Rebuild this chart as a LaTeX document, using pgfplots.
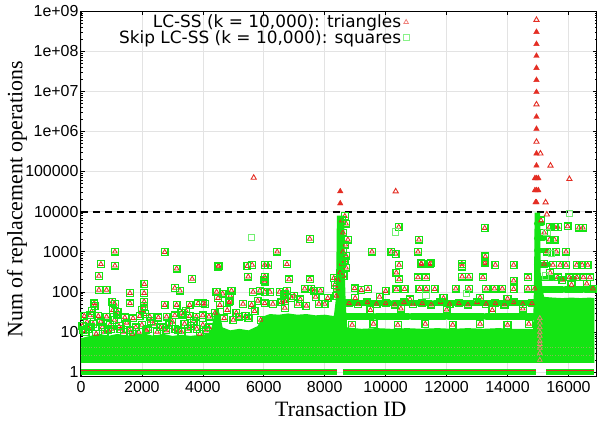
\documentclass[border=0pt]{standalone}
\usepackage{fontspec}
\setmainfont{Liberation Serif}
\setsansfont{Liberation Sans}
\newfontfamily\legfont{DejaVu Sans}
\usepackage{pgfplots}
\pgfplotsset{compat=1.18}
\usepackage{pgfplotstable}
\definecolor{lcgreen}{RGB}{20,228,20}
\definecolor{lcred}{RGB}{228,45,35}

% points where both variants report the same count (triangle inside square)
\pgfplotstableread{
x y
1115 1000
2750 980
655 490
1115 450
3140 380
590 250
3650 210
2080 155
590 112
840 112
3080 125
3250 107
1610 93
2075 93
440 52
1030 57
1115 50
1610 52
2075 57
2075 45
2750 47
3140 47
3570 47
3850 52
4010 52
110 25
300 26
570 25
840 24
1170 27
1440 23
1710 22
1930 25
2260 24
2540 23
2810 24
3080 26
3350 27
3570 25
3790 24
4000 26
4200 24
350 33
450 45
1050 35
1200 32
3300 30
3450 33
2000 35
2100 28
50 14
250 12
400 16
700 13
950 15
1300 12
1500 17
1800 13
2000 15
2200 12
2400 16
2600 13
2900 15
3100 12
3400 16
3600 14
3800 12
4000 15
4200 13
200 18
650 18
1100 20
2300 19
3000 18
3700 19
150 10
500 9
900 11
1400 10
1700 9
2500 10
2800 11
3300 10
3900 9
80 11
320 13
780 10
1000 12
1250 14
1600 11
1900 10
2150 11
2700 13
3200 11
3500 12
4100 11
4520 450
4500 430
5460 440
5620 470
6030 470
6140 470
6760 490
5490 240
6030 240
6000 200
6030 180
6830 205
7510 205
6440 1000
7510 2100
4450 100
4940 107
5650 100
5870 107
6030 100
6200 100
6520 100
6760 107
7660 107
7860 107
7340 120
7560 117
4070 50
4560 47
4860 55
5320 50
5600 47
6030 52
6300 50
6580 55
7120 50
7400 45
7810 50
8000 50
4900 60
5800 60
6700 58
6650 85
7000 80
4800 35
5100 30
5400 25
5700 33
4400 30
4700 22
5000 20
5200 24
5500 22
5900 20
4500 70
4650 90
6900 70
7200 65
7700 75
8100 70
8300 220
8330 150
4900 80
6690 40
6690 60
6690 90
8430 200
8500 300
8550 500
8600 1000
8660 7700
8760 2000
8700 400
8620 250
8650 600
8680 1500
8600 3000
8400 120
8380 80
8700 5000
8560 6000
8700 800
10430 4150
11090 2000
9550 1000
10190 1000
10330 890
11060 1000
10440 470
11170 490
11440 490
10350 300
10440 205
11060 230
11330 230
8980 123
9420 117
10620 117
10350 115
11110 117
11330 117
11610 117
13250 3900
13270 760
13270 560
12500 500
12500 430
13600 470
14200 470
13250 520
12510 240
12730 240
13190 230
14200 190
14670 230
12300 120
12730 120
13300 120
13570 120
13830 120
14200 117
14670 120
14890 120
11170 520
11480 520
9200 110
10000 105
8800 52
9100 50
9400 55
9700 50
10000 52
10300 48
10600 55
10900 50
11200 52
11500 48
11800 55
12100 50
12400 52
12700 48
13000 55
13300 50
13600 52
13900 48
14200 55
14500 50
14800 52
9000 70
9800 75
10800 65
11900 70
13100 72
14000 68
9500 35
10500 38
12000 36
13500 35
14500 38
8900 15
9600 16
10400 15
11300 16
12200 15
13100 16
14000 15
14700 16
15380 4150
15540 4150
15650 4150
16340 4000
16470 4000
15970 4300
15380 2000
15540 2000
15600 1000
15920 1000
15490 470
15730 470
15920 470
16270 470
16450 470
16630 470
15650 230
16030 230
16270 230
16490 230
16700 230
15300 1000
15200 500
15400 300
15800 200
16100 150
16600 160
16800 120
15100 6000
15200 3000
}\bothpts

\begin{document}
\begin{tikzpicture}
\begin{axis}[
  scale only axis, width=516bp, height=366bp,
  xmin=0, xmax=16920,
  ymode=log, ymin=0.77, ymax=1e9,
  scaled x ticks=false,
  xtick={0,2000,4000,6000,8000,10000,12000,14000,16000},
  xticklabels={0,2000,4000,6000,8000,10000,12000,14000,16000},
  ytick={1,10,100,1000,10000,100000,1000000,10000000,100000000,1000000000},
  yticklabels={1,10,100,1000,10000,100000,1e+06,1e+07,1e+08,1e+09},
  ticklabel style={font=\sffamily\fontsize{16}{16}\selectfont},
  xticklabel style={yshift=-1bp},
  yticklabel style={xshift=1bp},
  grid=major, grid style={gray!22, line width=0.6bp},
  tick align=inside, major tick length=4bp, minor tick length=2bp,
  tick style={black, line width=0.6bp},
  axis line style={black, line width=0.9bp},
  xlabel={Transaction ID},
  ylabel={Num of replacement operations},
  label style={font=\fontsize{22}{22}\selectfont},
  x label style={at={(axis description cs:0.504,-0.09)}, anchor=center},
  y label style={at={(axis description cs:-0.124,0.485)}, anchor=center},
  legend style={at={(axis description cs:0.637,0.995)}, anchor=north east,
    draw=none, fill=none, font=\legfont\fontsize{17}{15}\selectfont,
    row sep=-3bp, inner sep=0pt},
  legend cell align=right, legend plot pos=right,
]
\addlegendimage{only marks, mark=triangle, mark size=2.7bp, draw=lcred!60, mark options={line width=0.8bp}}
\addlegendentry{LC-SS (k = 10,000): triangles}
\addlegendimage{only marks, mark=square, mark size=3bp, draw=lcgreen!50, mark options={line width=0.9bp}}
\addlegendentry{Skip LC-SS (k = 10,000): squares}

% threshold k
\addplot[forget plot, black, line width=1.8bp, dash pattern=on 7bp off 5bp]
  coordinates {(0,10000)(16920,10000)};

% dense core of overlapping markers
\addplot[forget plot, fill=lcgreen, draw=none] coordinates {
(0,1.7)(0,7)(300,8)(600,9)(900,8)(1200,9)(1500,8)(1800,9)(2100,9)(2400,8)
(2700,9)(3000,8)(3300,8.5)(3600,8)(3900,8.5)(4200,9)(4300,14)(4380,30)(4470,40)
(4560,28)(4650,13)(4900,11)(5200,12)(5500,11)(5800,14)(5950,24)(6200,28)(6500,27)
(6800,29)(7100,27)(7400,28)(7700,26)(8000,27)(8300,25)(8360,60)(8380,300)(8400,8000)
(8640,8000)(8660,300)(8690,50)(8740,13)(9200,12)(9700,12.5)(10200,12)(10700,12.5)
(11200,12)(11700,12.5)(12200,12)(12700,12.5)(13200,12)(13700,12.5)(14200,12)(14840,12)
(14870,200)(14890,9500)(15070,9500)(15090,300)(15150,120)(15200,75)(15500,72)(15800,70)
(16100,72)(16400,70)(16700,72)(16850,70)(16850,1.7)} -- cycle;

% bands of equal counts
\addplot[forget plot, lcgreen, line width=7bp, line cap=round, unbounded coords=jump] coordinates {
(8650,25)(9600,25)(9650,nan)(9700,25)(10750,25)(10800,nan)(10850,25)(11950,25)(12000,nan)
(12050,25)(13200,25)(13250,nan)(13300,25)(14850,25)};
\addplot[forget plot, lcgreen, line width=6bp, line cap=round, unbounded coords=jump] coordinates {
(8650,52)(9050,52)(9100,nan)(9150,52)(9550,52)(9600,nan)(9650,52)(10150,52)(10200,nan)
(10250,52)(10850,52)(10900,nan)(10950,52)(11500,52)(11550,nan)(11600,52)(12150,52)(12200,nan)
(12250,52)(12850,52)(12900,nan)(12950,52)(13450,52)(13500,nan)(13550,52)(14150,52)(14200,nan)
(14250,52)(14850,52)};
\addplot[forget plot, lcgreen, line width=7bp, line cap=round, unbounded coords=jump] coordinates {
(15100,115)(15800,115)(15850,nan)(15900,115)(16450,115)(16500,nan)(16550,115)(16850,115)};
\addplot[forget plot, lcgreen, line width=5bp, line cap=round, unbounded coords=jump] coordinates {
(15000,220)(15500,220)(15550,nan)(15700,220)(15850,220)(15900,nan)(16100,220)(16200,220)};
\addplot[forget plot, lcgreen, line width=5bp, line cap=round, unbounded coords=jump] coordinates {
(14950,480)(15350,480)(15400,nan)(14950,1100)(15300,1100)(15350,nan)
(14950,2200)(15200,2200)(15250,nan)(14950,5000)(15150,5000)};

% count = 1
\addplot[forget plot, lcgreen, line width=5.5bp, unbounded coords=jump] coordinates {
(0,1)(8420,1)(8500,nan)(8600,1)(14950,1)(15100,nan)(15270,1)(16850,1)};
\addplot[forget plot, lcred, line width=0.6bp, unbounded coords=jump] coordinates {
(0,1.13)(8420,1.13)(8500,nan)(8600,1.13)(14950,1.13)(15100,nan)(15270,1.13)(16850,1.13)};
% faint rows of triangles inside the core
\addplot[forget plot, lcred!50!white, line width=0.6bp, dotted, opacity=0.5] coordinates {(0,2.6)(16850,2.6)};
\addplot[forget plot, lcred!50!white, line width=0.6bp, dotted, opacity=0.5] coordinates {(0,4.1)(16850,4.1)};

% LC-SS triangles and Skip LC-SS squares
\addplot[forget plot, only marks, mark=triangle, mark size=2.7bp,
  mark options={draw=lcred, line width=0.8bp}] table {\bothpts};
\addplot[forget plot, only marks, mark=square, mark size=3.4bp,
  mark options={draw=lcgreen, line width=1.3bp}] table {\bothpts};

% triangles only
\addplot[forget plot, only marks, mark=triangle, mark size=3bp,
  mark options={draw=lcred, line width=0.9bp, fill=lcred!12}] coordinates {
(5670,70000)(10330,32000)(16030,65000)(15250,17000)(15290,8500)(15080,280000)
(15410,140000)(14950,600000000)(14950,4700000)(14950,550000)};
\addplot[forget plot, only marks, mark=triangle, mark size=2.7bp,
  mark options={draw=lcred!60, line width=0.7bp, fill=white}] coordinates {
(15060,2)(15060,3)(15060,4)(15060,5)(15060,6)(15060,8)(15060,10)(15060,13)(15060,17)(15060,22)};
\addplot[forget plot, only marks, mark=triangle*, mark size=3.2bp,
  mark options={draw=lcred, fill=lcred}] coordinates {
(14950,300000000)(14950,150000000)(14950,76000000)(14950,38000000)(14950,19000000)
(14950,9500000)(14950,2300000)(14950,1150000)(14950,280000)(14950,140000)
(14950,68000)(14900,68000)(15010,68000)(14950,34000)(14900,34000)(15010,34000)
(14950,17000)(14920,17000)(8510,32000)(8510,16000)};

% squares only
\addplot[forget plot, only marks, mark=square, mark size=3.2bp,
  mark options={draw=lcgreen!60, line width=1bp}] coordinates {
(5600,2300)(10330,3100)(11330,84)(16030,8900)(12650,92)(15300,3000)(15450,900)(15250,250)};
\end{axis}
\pgfresetboundingbox
\path[use as bounding box] (current axis.south west) ++(-81bp,-47bp)
  rectangle ([xshift=0.5bp,yshift=11bp]current axis.north east);
\end{tikzpicture}
\end{document}
